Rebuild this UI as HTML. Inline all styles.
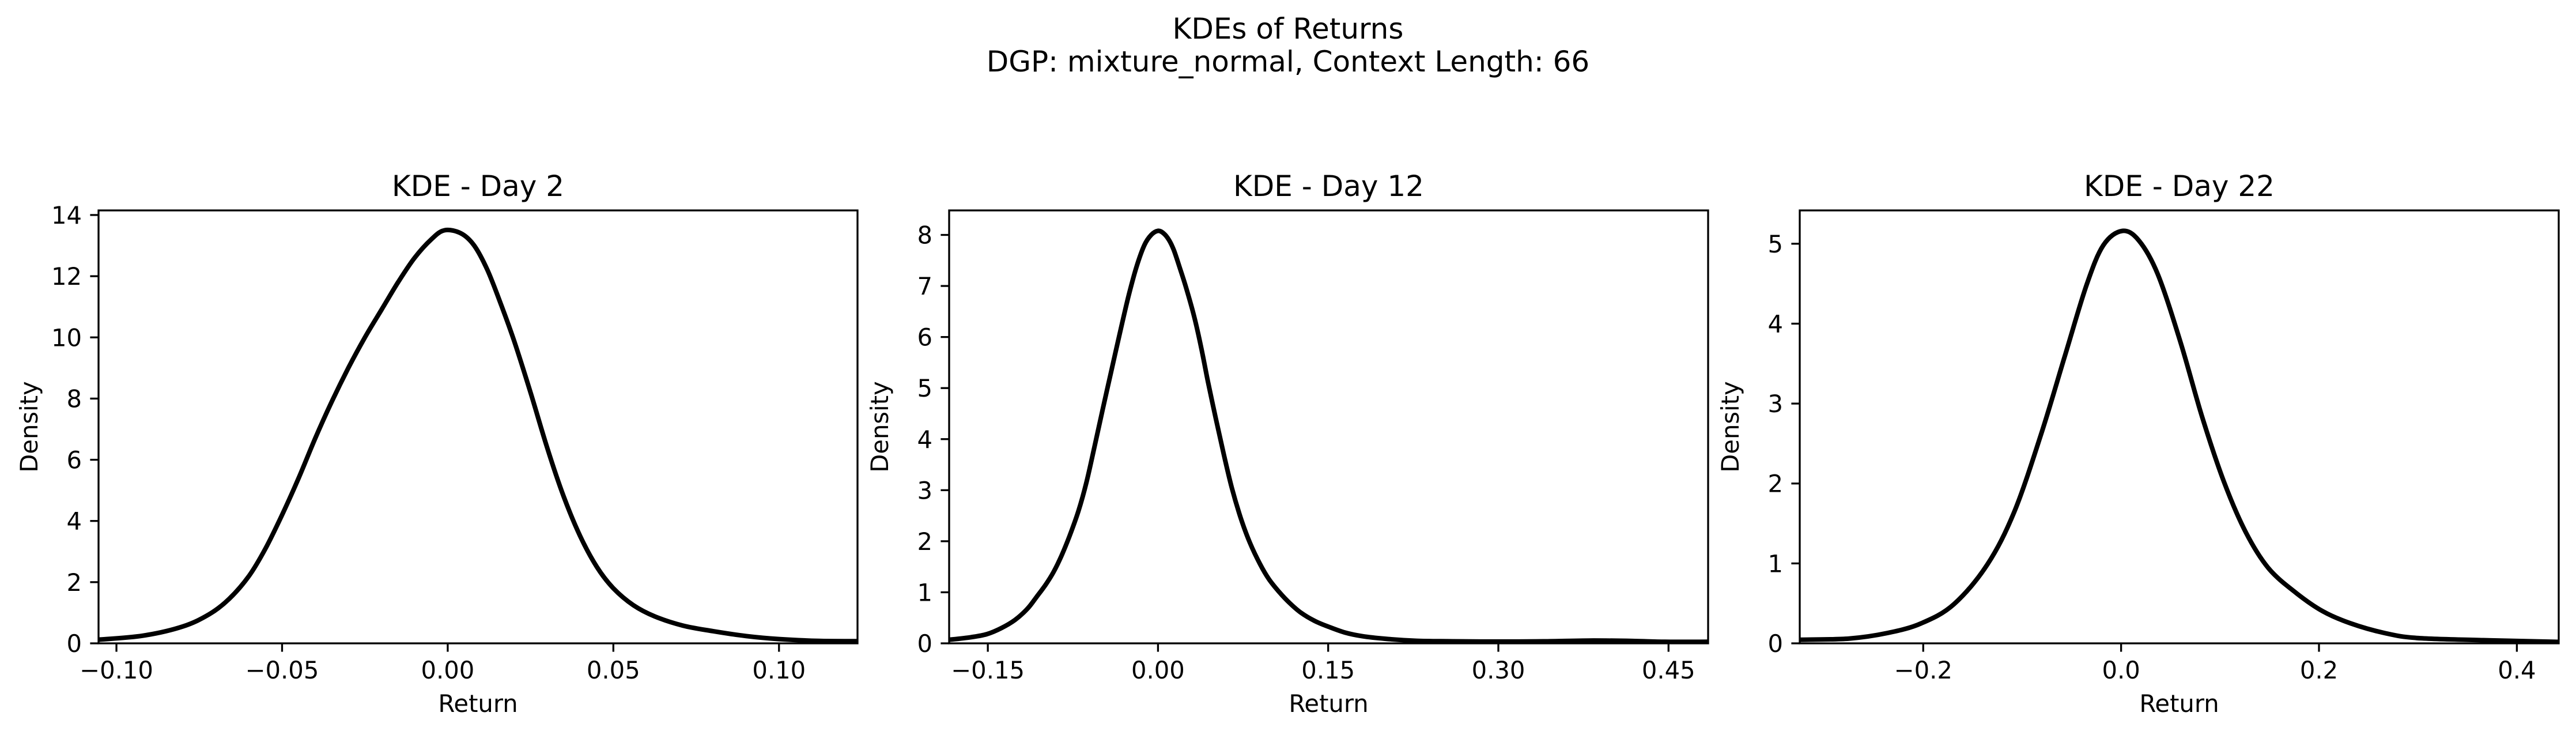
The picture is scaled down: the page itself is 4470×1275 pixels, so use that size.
<!DOCTYPE html>
<html><head><meta charset="utf-8"><style>
html,body{margin:0;padding:0;background:#fff;}
svg{display:block;font-family:"DejaVu Sans","Liberation Sans",sans-serif;}
</style></head><body>
<svg id="fig" width="4470" height="1275" viewBox="0 0 4470 1275" xmlns="http://www.w3.org/2000/svg">
<rect width="4470" height="1275" fill="#fff"/>
<text x="2235" y="67" font-size="50" text-anchor="middle">KDEs of Returns</text>
<text x="2235" y="124" font-size="50" text-anchor="middle">DGP: mixture_normal, Context Length: 66</text>
<g id="panels"></g>
</svg>
<script>
// Panel 1 (Day 2)
const day2X = [-0.1054,-0.092,-0.080,-0.072,-0.066,-0.060,-0.055,-0.050,-0.045,-0.040,-0.035,-0.030,-0.025,-0.020,-0.015,-0.010,-0.005,-0.001,0.004,0.008,0.012,0.016,0.020,0.025,0.030,0.035,0.040,0.045,0.050,0.056,0.0625,0.071,0.080,0.090,0.100,0.112,0.1237];
const day2Y = [0.12,0.25,0.55,0.95,1.45,2.2,3.1,4.2,5.4,6.7,7.9,9.0,10.0,10.9,11.8,12.6,13.2,13.5,13.4,13.0,12.2,11.1,9.9,8.2,6.4,4.8,3.5,2.5,1.8,1.25,0.88,0.58,0.40,0.24,0.14,0.08,0.07];
const day2XTicks = [-0.10,-0.05,0.00,0.05,0.10];
const day2XTickLabels = ["\u22120.10","\u22120.05","0.00","0.05","0.10"];
const day2YTicks = [0,2,4,6,8,10,12,14];
// Panel 2 (Day 12)
const day12X = [-0.1841,-0.165,-0.151,-0.138,-0.126,-0.115,-0.107,-0.099,-0.092,-0.085,-0.078,-0.070,-0.063,-0.056,-0.049,-0.041,-0.034,-0.026,-0.019,-0.012,-0.006,0.0,0.005,0.0097,0.014,0.019,0.025,0.032,0.038,0.044,0.051,0.058,0.065,0.073,0.081,0.090,0.098,0.107,0.116,0.126,0.138,0.151,0.165,0.180,0.2,0.228,0.26,0.301,0.34,0.384,0.42,0.447,0.4849];
const day12Y = [0.07,0.12,0.18,0.30,0.46,0.68,0.91,1.15,1.40,1.72,2.1,2.6,3.16,3.85,4.56,5.35,6.04,6.8,7.37,7.8,8.0,8.08,8.03,7.9,7.7,7.37,6.95,6.39,5.8,5.13,4.4,3.7,3.05,2.45,1.97,1.55,1.25,1.0,0.79,0.60,0.44,0.32,0.21,0.14,0.09,0.05,0.04,0.035,0.04,0.055,0.045,0.03,0.03];
const day12XTicks = [-0.15,0.00,0.15,0.30,0.45];
const day12XTickLabels = ["\u22120.15","0.00","0.15","0.30","0.45"];
const day12YTicks = [0,1,2,3,4,5,6,7,8];
// Panel 3 (Day 22)
const day22X = [-0.3248,-0.275,-0.236,-0.202,-0.169,-0.135,-0.1075,-0.080,-0.057,-0.035,-0.018,0.001,0.018,0.037,0.060,0.082,0.104,0.126,0.149,0.177,0.204,0.232,0.266,0.299,0.366,0.4423];
const day22Y = [0.045,0.06,0.13,0.25,0.49,0.99,1.66,2.65,3.59,4.48,4.98,5.16,5.04,4.62,3.77,2.83,2.02,1.39,0.94,0.63,0.40,0.25,0.13,0.067,0.04,0.018];
const day22XTicks = [-0.2,0.0,0.2,0.4];
const day22XTickLabels = ["\u22120.2","0.0","0.2","0.4"];
const day22YTicks = [0,1,2,3,4,5];

const NS = "http://www.w3.org/2000/svg";
const root = document.getElementById('panels');
function mk(tag, attrs, parent){const e=document.createElementNS(NS,tag);for(const k in attrs)e.setAttribute(k,attrs[k]);parent.appendChild(e);return e;}

const panels = [
 {title:"KDE - Day 2", L:171,R:1488, xmin:-0.1054,xmax:0.1237,ymax:14.15, xs:day2X, ys:day2Y, xt:day2XTicks, xtl:day2XTickLabels, yt:day2YTicks, key:"day-2"},
 {title:"KDE - Day 12", L:1647,R:2964, xmin:-0.1841,xmax:0.4849,ymax:8.48, xs:day12X, ys:day12Y, xt:day12XTicks, xtl:day12XTickLabels, yt:day12YTicks, key:"day-12"},
 {title:"KDE - Day 22", L:3123,R:4440, xmin:-0.3248,xmax:0.4423,ymax:5.417, xs:day22X, ys:day22Y, xt:day22XTicks, xtl:day22XTickLabels, yt:day22YTicks, key:"day-22"}
];
const T=365, B=1116;
panels.forEach(p=>{
  const g = mk('g',{},root);
  
  
  const sx = v => p.L + (v-p.xmin)/(p.xmax-p.xmin)*(p.R-p.L);
  const sy = v => B - v/p.ymax*(B-T);
  const pts = p.xs.map((x,i)=>[sx(x),sy(p.ys[i])]);
  let d = "M"+pts[0][0].toFixed(1)+","+pts[0][1].toFixed(1);
  for(let i=0;i<pts.length-1;i++){
    const p0=pts[Math.max(0,i-1)],p1=pts[i],p2=pts[i+1],p3=pts[Math.min(pts.length-1,i+2)];
    const c1=[p1[0]+(p2[0]-p0[0])/6,p1[1]+(p2[1]-p0[1])/6];
    const c2=[p2[0]-(p3[0]-p1[0])/6,p2[1]-(p3[1]-p1[1])/6];
    d+=" C"+c1[0].toFixed(1)+","+c1[1].toFixed(1)+" "+c2[0].toFixed(1)+","+c2[1].toFixed(1)+" "+p2[0].toFixed(1)+","+p2[1].toFixed(1);
  }
  const cp = mk('clipPath',{id:'clip-'+p.key},g);
  mk('rect',{x:p.L,y:T,width:p.R-p.L,height:B-T},cp);
  const line = mk('path',{d:d,fill:'none',stroke:'#000','stroke-width':8,'stroke-linejoin':'round','clip-path':'url(#clip-'+p.key+')'},g);
  
  
  const frame = mk('rect',{x:p.L,y:T,width:p.R-p.L,height:B-T,fill:'none',stroke:'#000','stroke-width':3.3},g);
  
  
  p.xt.forEach((v,i)=>{
    const x=sx(v);
    const tk = mk('line',{x1:x,x2:x,y1:B,y2:B+14.6,stroke:'#000','stroke-width':3.3},g);
    
    
    const t = mk('text',{x:x,y:B+61,'font-size':41.7,'text-anchor':'middle'},g);
    t.textContent = p.xtl[i];
    
    
  });
  p.yt.forEach(v=>{
    const y=sy(v);
    const tk = mk('line',{x1:p.L-14.6,x2:p.L,y1:y,y2:y,stroke:'#000','stroke-width':3.3},g);
    
    
    const t = mk('text',{x:p.L-29,y:y+15,'font-size':41.7,'text-anchor':'end'},g);
    t.textContent = String(v);
    
    
  });
  const ttl = mk('text',{x:(p.L+p.R)/2,y:340,'font-size':50,'text-anchor':'middle'},g);
  ttl.textContent = p.title;
  
  
  const xl = mk('text',{x:(p.L+p.R)/2,y:1235,'font-size':41.7,'text-anchor':'middle'},g);
  xl.textContent = "Return";
  
  
  const yx = p.L-106, yy=(T+B)/2;
  const yl = mk('text',{x:yx,y:yy,'font-size':41.7,'text-anchor':'middle',transform:'rotate(-90 '+yx+' '+yy+')'},g);
  yl.textContent = "Density";
  
  
});
</script>
</body></html>
